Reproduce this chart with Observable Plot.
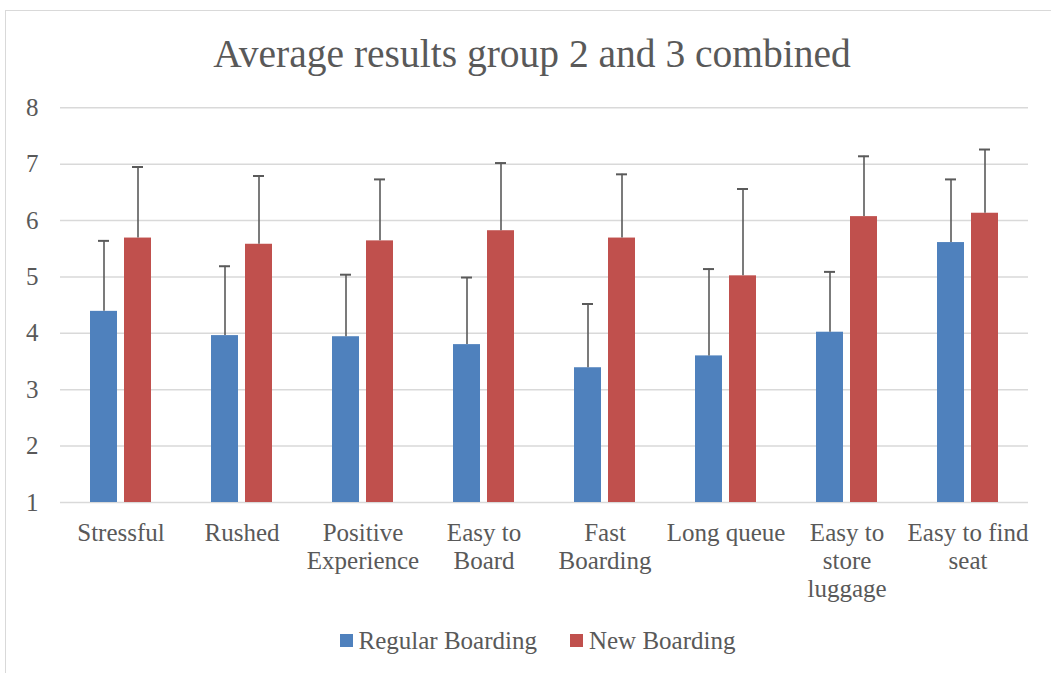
<!DOCTYPE html>
<html>
<head>
<meta charset="utf-8">
<script src="https://cdn.jsdelivr.net/npm/d3@7"></script>
<script src="https://cdn.jsdelivr.net/npm/@observablehq/plot@0.6"></script>
<style>
  html, body { margin: 0; padding: 0; background: #fff; }
  #wrap { position: relative; width: 1051px; height: 673px; overflow: hidden; font-family: "Liberation Serif", serif; color: #595959; }
  #frame { position: absolute; left: 5px; top: 10px; width: 1100px; height: 700px; border-left: 1.5px solid #d9d9d9; border-top: 1.5px solid #d9d9d9; }
  #title { position: absolute; left: 5px; width: 1054px; top: 31px; text-align: center; font-size: 39.5px; line-height: 46px; white-space: nowrap; }
  #chart { position: absolute; left: 0; top: 90px; }
  #legend { position: absolute; left: 0; width: 1075px; top: 626px; text-align: center; font-size: 25px; line-height: 30px; white-space: nowrap; }
  .sw { display: inline-block; width: 13px; height: 13px; margin-right: 6px; vertical-align: 2px; }
  .item + .item { margin-left: 33px; }
</style>
</head>
<body>
<div id="wrap">
  <div id="frame"></div>
  <div id="title">Average results group 2 and 3 combined</div>
  <div id="chart"></div>
  <div id="legend"></div>
</div>
<script>
const categories = ["Stressful", "Rushed", "Positive Experience", "Easy to Board", "Fast Boarding", "Long queue", "Easy to store luggage", "Easy to find seat"];
const categoryLabels = ["Stressful", "Rushed", "Positive\nExperience", "Easy to\nBoard", "Fast\nBoarding", "Long queue", "Easy to\nstore\nluggage", "Easy to find\nseat"];
const seriesNames = ["Regular Boarding", "New Boarding"];
const seriesColors = ["#4F81BD", "#C0504D"];
const regularValues = [4.39, 3.96, 3.94, 3.80, 3.39, 3.60, 4.02, 5.61];
const regularErrors = [1.25, 1.23, 1.10, 1.19, 1.13, 1.54, 1.07, 1.12];
const newValues = [5.69, 5.58, 5.64, 5.82, 5.69, 5.02, 6.07, 6.13];
const newErrors = [1.26, 1.21, 1.09, 1.20, 1.13, 1.54, 1.07, 1.13];
const yTicks = [1, 2, 3, 4, 5, 6, 7, 8];

const rows = [];
categories.forEach((c, i) => {
  rows.push({category: c, series: seriesNames[0], value: regularValues[i], err: regularErrors[i]});
  rows.push({category: c, series: seriesNames[1], value: newValues[i], err: newErrors[i]});
});
const labelOf = new Map(categories.map((c, i) => [c, categoryLabels[i]]));

const chart = Plot.plot({
  width: 1051,
  height: 520,
  marginTop: 17.3,
  marginBottom: 108,
  marginLeft: 58,
  marginRight: 21,
  style: {fontFamily: "Liberation Serif", fontSize: "25px", color: "#595959", background: "transparent"},
  fx: {domain: categories, padding: 0, label: null},
  x: {domain: seriesNames, paddingInner: 0.2, paddingOuter: 0.876, axis: null},
  y: {domain: [1, 8], label: null},
  color: {domain: seriesNames, range: seriesColors},
  marks: [
    Plot.gridY(yTicks, {stroke: "#d9d9d9", strokeOpacity: 1, strokeWidth: 1.5}),
    Plot.barY(rows, {fx: "category", x: "series", y1: 1, y2: "value", fill: "series"}),
    Plot.ruleX(rows, {fx: "category", x: "series", y1: "value", y2: d => d.value + d.err, stroke: "#5a5a5a", strokeWidth: 1.6}),
    Plot.tickY(rows, {fx: "category", x: "series", y: d => d.value + d.err, insetLeft: 8, insetRight: 8, stroke: "#5a5a5a", strokeWidth: 2}),
    Plot.axisY(yTicks, {tickSize: 0, tickPadding: 22, fontSize: 25, fill: "#595959", label: null, tickFormat: d => String(d)}),
    Plot.axisFx({anchor: "bottom", tickSize: 0, tickPadding: 18.5, fontSize: 25, lineHeight: 1.12, fill: "#595959", label: null, tickFormat: d => labelOf.get(d)})
  ]
});
document.getElementById("chart").appendChild(chart);

const legend = document.getElementById("legend");
seriesNames.forEach((s, i) => {
  const item = document.createElement("span");
  item.className = "item";
  const sw = document.createElement("span");
  sw.className = "sw";
  sw.style.background = seriesColors[i];
  item.appendChild(sw);
  item.appendChild(document.createTextNode(s));
  legend.appendChild(item);
});
</script>
</body>
</html>
